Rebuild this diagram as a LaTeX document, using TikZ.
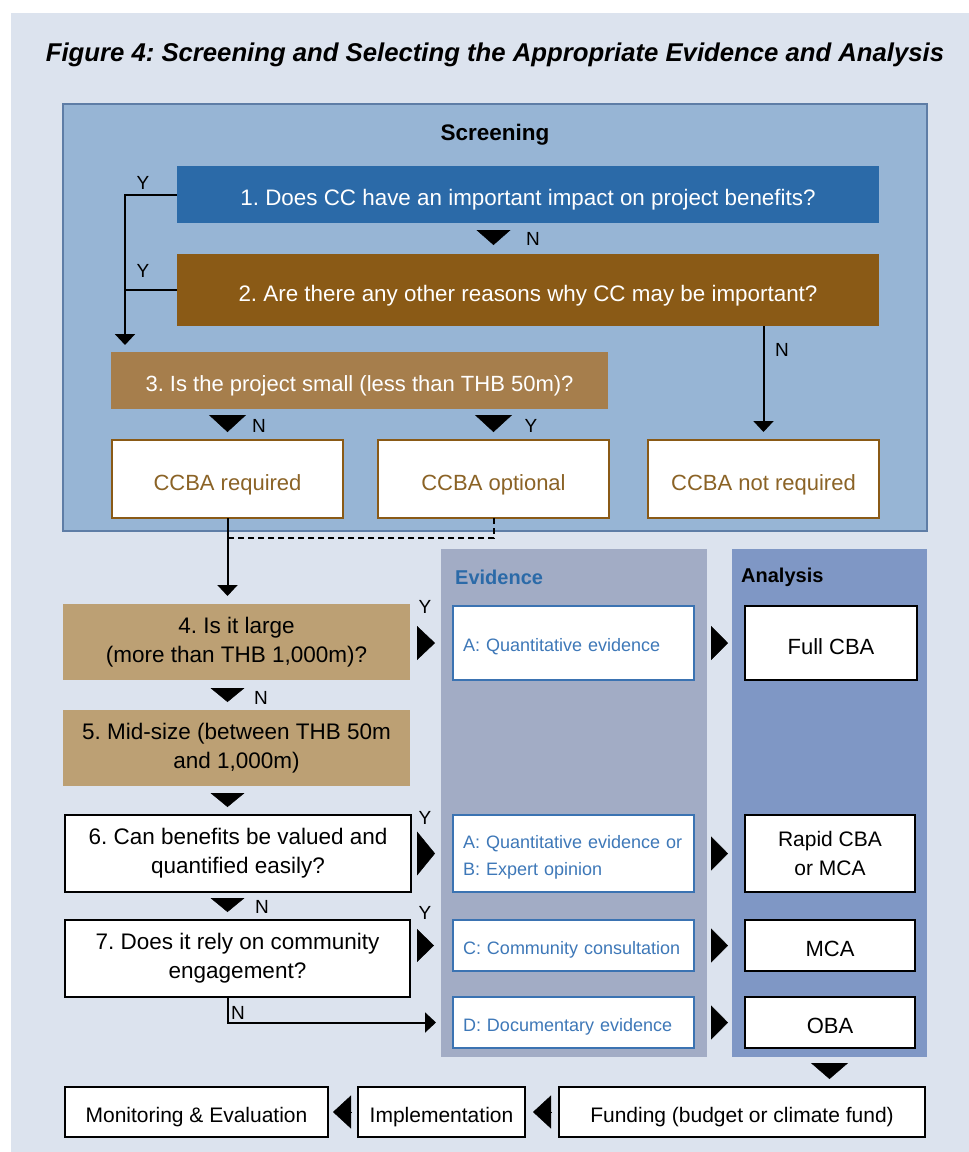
\documentclass[tikz,border=0pt]{standalone}
\usepackage{fontspec}
\setmainfont{Liberation Sans}
\usetikzlibrary{arrows.meta,calc}
\frenchspacing
\definecolor{bgc}{HTML}{DCE3EE}
\definecolor{scrc}{HTML}{97B5D5}
\definecolor{scrb}{HTML}{5E7DA6}
\definecolor{qblue}{HTML}{2B6AA8}
\definecolor{qbrown}{HTML}{8A5A16}
\definecolor{qtan}{HTML}{A67E4C}
\definecolor{qlight}{HTML}{BCA074}
\definecolor{cctext}{HTML}{8B6326}
\definecolor{evpan}{HTML}{A2ACC5}
\definecolor{anpan}{HTML}{7F97C5}
\definecolor{evb}{HTML}{3B73B2}
\definecolor{evt}{HTML}{3E78B8}
\tikzset{
  nb/.style={anchor=north west, inner sep=0pt, outer sep=0pt, align=center},
  onel/.style={text height=#1, text depth=0pt},
  twol/.style={execute at begin node={\rule{0pt}{#1}}},
  qone/.style={nb, onel=22pt, fill=qblue, text=white, font=\fontsize{22.4}{28}\selectfont},
  qtwo/.style={nb, onel=22pt, fill=qbrown, text=white, font=\fontsize{22.4}{28}\selectfont},
  qthree/.style={nb, onel=22pt, fill=qtan, text=white, font=\fontsize{22}{28}\selectfont},
  ccbox/.style={nb, onel=22pt, fill=white, draw=qbrown, line width=1.6pt, text=cctext, font=\fontsize{22}{28}\selectfont},
  tanbox/.style={nb, twol=26pt, fill=qlight, text=black, font=\fontsize{22.5}{29}\selectfont},
  wbox/.style={nb, fill=white, draw=black, line width=1.8pt, text=black, font=\fontsize{21}{29}\selectfont},
  qbox/.style={wbox, twol=26pt, font=\fontsize{22.5}{29}\selectfont},
  evbox/.style={nb, fill=white, draw=evb, line width=1.8pt, text=evt, align=left, inner xsep=10pt, text width=221pt, font=\fontsize{18}{27}\selectfont},
  panel/.style={nb},
  lab/.style={inner sep=0pt, font=\fontsize{19}{21}\selectfont},
  arr/.style={line width=2pt, -{Triangle[width=20pt,length=11pt]}},
  plain/.style={line width=2pt},
  tri/.style={line width=0.4pt, -{Triangle[width=#1,length=15pt]}},
}
\begin{document}
\begin{tikzpicture}[x=1pt,y=-1pt]
\useasboundingbox (0,0) rectangle (969,1152);
\fill[bgc] (11,13) rectangle (969,1152);

\node[inner sep=0pt, font=\fontsize{25.7}{30}\selectfont\bfseries\itshape] (title) at (495,55) {Figure 4: Screening and Selecting the Appropriate Evidence and Analysis};

% screening panel
\node[panel, fill=scrc, draw=scrb, line width=2pt, minimum width=864pt, minimum height=427pt] (scr) at (63,104) {};
\node[inner sep=0pt, font=\fontsize{22.5}{26}\selectfont\bfseries] (scrt) at (495,135) {Screening};

\node[qone, minimum width=702pt, minimum height=57pt] (b1) at (177,166) {1. Does CC have an important impact on project benefits?};
\node[qtwo, minimum width=702pt, minimum height=72pt] (b2) at (177,254) {2. Are there any other reasons why CC may be important?};
\node[qthree, minimum width=497pt, minimum height=57pt] (b3) at (111,352) {3. Is the project small (less than THB 50m)?};
\node[ccbox, minimum width=231pt, minimum height=78pt] (cr) at (112,440) {CCBA required};
\node[ccbox, minimum width=231pt, minimum height=78pt] (co) at (378,440) {CCBA optional};
\node[ccbox, minimum width=231pt, minimum height=78pt] (nr) at (648,440) {CCBA not required};

% evidence / analysis panels
\node[panel, fill=evpan, minimum width=266pt, minimum height=508pt] (ev) at (441,549) {};
\node[panel, fill=anpan, minimum width=195pt, minimum height=508pt] (an) at (732,549) {};
\node[anchor=west, inner sep=0pt, text=qblue, font=\fontsize{20}{24}\selectfont\bfseries] (evt) at (455,577) {Evidence};
\node[anchor=west, inner sep=0pt, font=\fontsize{20}{24}\selectfont\bfseries] (ant) at (741,577) {Analysis};

\node[tanbox, minimum width=347pt, minimum height=76pt] (b4) at (63,604) {4. Is it large\\(more than THB 1,000m)?};
\node[tanbox, minimum width=347pt, minimum height=76pt] (b5) at (63,710) {5. Mid-size (between THB 50m\\and 1,000m)};
\node[qbox, minimum width=346pt, minimum height=77pt] (b6) at (65,815) {6. Can benefits be valued and\\quantified easily?};
\node[qbox, minimum width=345pt, minimum height=77pt] (b7) at (65,920) {7. Does it rely on community\\engagement?};

\node[evbox, onel=17pt, minimum height=74pt] (evA) at (453,606) {A: Quantitative evidence};
\node[evbox, twol=21pt, minimum height=77pt] (evAB) at (453,815) {A: Quantitative evidence or\\B: Expert opinion};
\node[evbox, onel=17pt, minimum height=51pt] (evC) at (453,920) {C: Community consultation};
\node[evbox, onel=17pt, minimum height=51pt] (evD) at (453,997) {D: Documentary evidence};

\node[wbox, onel=22pt, font=\fontsize{22}{29}\selectfont, minimum width=172pt, minimum height=74pt] (fc) at (745,606) {Full CBA};
\node[wbox, twol=25pt, minimum width=170pt, minimum height=77pt] (rc) at (745,815) {Rapid CBA\\or MCA};
\node[wbox, onel=22pt, font=\fontsize{22}{29}\selectfont, minimum width=170pt, minimum height=51pt] (mca) at (745,920) {MCA};
\node[wbox, onel=22pt, font=\fontsize{22}{29}\selectfont, minimum width=170pt, minimum height=51pt] (oba) at (745,997) {OBA};

\node[wbox, onel=21pt, minimum width=366pt, minimum height=50pt] (fu) at (559,1087) {Funding (budget or climate fund)};
\node[wbox, onel=21pt, minimum width=167pt, minimum height=50pt] (im) at (358,1087) {Implementation};
\node[wbox, onel=21pt, minimum width=263pt, minimum height=50pt] (me) at (65,1087) {Monitoring \& Evaluation};

% Y lines on the left
\draw[arr] (b1.west) -| ([xshift=14pt,yshift=7pt]b3.north west);
\draw[plain] (b2.west) -- ++(-52,0);
\draw[arr] (b2.south -| nr.north) -- ([yshift=8pt]nr.north);

% triangles
\draw[tri=34pt, shorten <=7pt, shorten >=9pt] (b1.south -| co.north) -- (b2.north -| co.north);
\draw[tri=37pt, -{Triangle[width=37pt,length=17pt]}, shorten <=6pt, shorten >=8pt] (b3.south -| cr.north) -- (cr.north);
\draw[tri=37pt, -{Triangle[width=37pt,length=17pt]}, shorten <=6pt, shorten >=8pt] (b3.south -| co.north) -- (co.north);

% from screening
\draw[arr, shorten >=8pt] (cr.south) -- (cr.south |- b4.north);
\draw[plain, dash pattern=on 6pt off 4pt] (co.south) |- ([yshift=-20pt]cr.south);

\draw[tri=34pt, -{Triangle[width=34pt,length=14pt]}, shorten <=8pt, shorten >=8pt] (b4.south -| cr.south) -- (b5.north -| cr.south);
\draw[tri=34pt, -{Triangle[width=34pt,length=14pt]}, shorten <=7pt, shorten >=8pt] (b5.south -| cr.south) -- (b6.north -| cr.south);
\draw[tri=34pt, -{Triangle[width=34pt,length=14pt]}, shorten <=6pt, shorten >=8pt] (b6.south -| cr.south) -- (b7.north -| cr.south);

% right triangles
\draw[tri=34pt, -{Triangle[width=34pt,length=18pt]}, shorten <=7pt, shorten >=18pt] (b4.east |- evA.west) -- (evA.west);
\draw[tri=34pt, -{Triangle[width=34pt,length=17pt]}, shorten <=17pt, shorten >=17pt] (evA.east) -- (fc.west);
\draw[tri=34pt, -{Triangle[width=44pt,length=18pt]}, shorten <=6pt, shorten >=18pt] (b6.east |- evAB.west) -- (evAB.west);
\draw[tri=34pt, -{Triangle[width=34pt,length=17pt]}, shorten <=17pt, shorten >=17pt] (evAB.east) -- (rc.west);
\draw[tri=34pt, -{Triangle[width=33pt,length=17pt]}, shorten <=7pt, shorten >=19pt] (b7.east |- evC.west) -- (evC.west);
\draw[tri=34pt, -{Triangle[width=34pt,length=17pt]}, shorten <=17pt, shorten >=17pt] (evC.east) -- (mca.west);
\draw[tri=34pt, -{Triangle[width=34pt,length=17pt]}, shorten <=17pt, shorten >=17pt] (evD.east) -- (oba.west);
\draw[arr, shorten >=17pt] (b7.south -| cr.south) |- (evD.west);

% bottom row
\draw[tri=37pt, -{Triangle[width=37pt,length=16pt]}, shorten <=6pt, shorten >=8pt] (an.south) -- (an.south |- fu.north);
\draw[tri=34pt, -{Triangle[width=33pt,length=18pt]}, shorten <=8pt, shorten >=8pt] (fu.west) -- (im.east);
\draw[tri=34pt, -{Triangle[width=33pt,length=18pt]}, shorten <=7pt, shorten >=5pt] (im.west) -- (me.east);

% labels
\node[lab] (y1) at (143,183) {Y};
\node[lab] (y2) at (143,271) {Y};
\node[lab] (n1) at (533,239) {N};
\node[lab] (n3) at (259,426) {N};
\node[lab] (y3) at (531,426) {Y};
\node[lab] (n2) at (782,350) {N};
\node[lab] (y4) at (425,607) {Y};
\node[lab] (n4) at (261,698) {N};
\node[lab] (y6) at (425,818) {Y};
\node[lab] (n6) at (262,907) {N};
\node[lab] (y7) at (425,913) {Y};
\node[lab] (n7) at (238,1013) {N};
\end{tikzpicture}
\end{document}
